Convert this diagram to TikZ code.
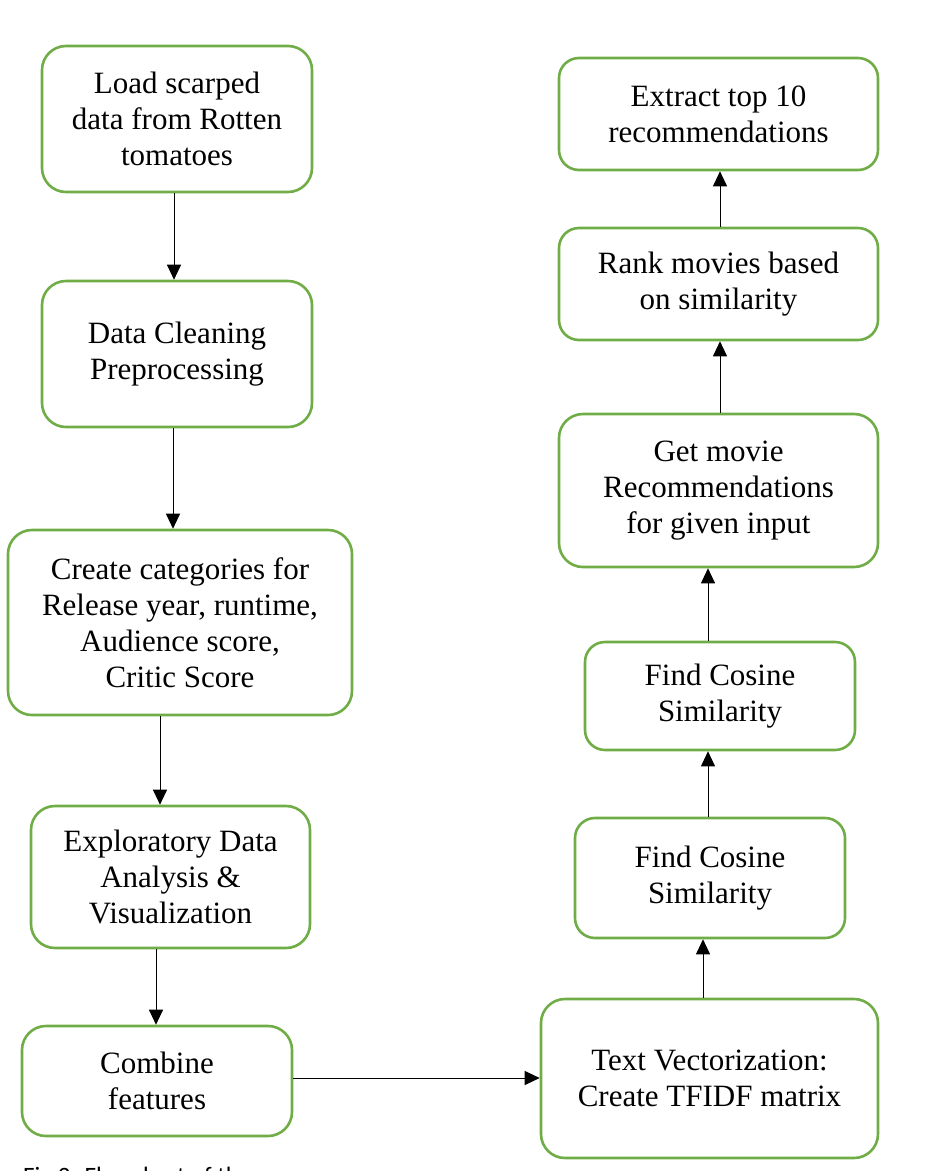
\documentclass[tikz,border=0pt]{standalone}
\usepackage{fontspec}
\setmainfont{Liberation Serif}
\newfontfamily\capfont{Carlito}
\usetikzlibrary{arrows.meta}
\definecolor{boxgreen}{HTML}{70AD47}
\tikzset{
  flowbox/.style={draw=boxgreen, line width=2.6pt, rounded corners=24pt, fill=white,
    align=center, inner sep=0pt, font=\fontsize{31}{36}\selectfont},
  arr/.style={draw=black, line width=1pt, -{Triangle[length=15pt,width=14pt]}}
}
\begin{document}
\begin{tikzpicture}[x=1pt,y=-1pt]
\useasboundingbox (0,0) rectangle (952,1171);
\begin{scope}
\clip (0,0) rectangle (952,1171);
% left column
\node[flowbox, minimum width=270pt, minimum height=146pt] (load) at (177,119) {Load scarped\\data from Rotten\\tomatoes};
\node[flowbox, minimum width=270pt, minimum height=146pt] (clean) at (177,354) {Data Cleaning\\Preprocessing};
\node[flowbox, minimum width=344pt, minimum height=185pt] (cat) at (180,622.5) {Create categories for\\Release year, runtime,\\Audience score,\\Critic Score};
\node[flowbox, minimum width=279pt, minimum height=142pt] (eda) at (170.5,877) {Exploratory Data\\Analysis \&\\Visualization};
\node[flowbox, minimum width=270pt, minimum height=110pt] (comb) at (157,1081) {Combine\\features};
% right column
\node[flowbox, minimum width=337pt, minimum height=159pt] (tfidf) at (709.5,1078.5) {Text Vectorization:\\Create TFIDF matrix};
\node[flowbox, minimum width=270pt, minimum height=120pt, rounded corners=20pt] (cos1) at (710,878) {Find Cosine\\Similarity};
\node[flowbox, minimum width=270pt, minimum height=108pt, rounded corners=20pt] (cos2) at (720,696) {Find Cosine\\Similarity};
\node[flowbox, minimum width=319pt, minimum height=153pt] (get) at (718.5,490.5) {Get movie\\Recommendations\\for given input};
\node[flowbox, minimum width=319pt, minimum height=112pt, rounded corners=20pt] (rank) at (718.5,284) {Rank movies based\\on similarity};
\node[flowbox, minimum width=319pt, minimum height=112pt, rounded corners=20pt] (top) at (718.5,114) {Extract top 10\\recommendations};
% connectors
\draw[arr] (load.south -| 174,0) -- (clean.north -| 174,0);
\draw[arr] (clean.south -| 173,0) -- (cat.north -| 173,0);
\draw[arr] (cat.south -| 160,0) -- (eda.north -| 160,0);
\draw[arr] (eda.south -| 156,0) -- (comb.north -| 156,0);
\draw[arr] (comb.east |- 0,1078) -- (tfidf.west |- 0,1078);
\draw[arr] (tfidf.north -| 703,0) -- (cos1.south -| 703,0);
\draw[arr] (cos1.north -| 708,0) -- (cos2.south -| 708,0);
\draw[arr] (cos2.north -| 708,0) -- (get.south -| 708,0);
\draw[arr] (get.north -| 720,0) -- (rank.south -| 720,0);
\draw[arr] (rank.north -| 720,0) -- (top.south -| 720,0);
% cut-off caption
\node[anchor=north west, inner sep=0pt, font=\capfont\fontsize{25}{28}\selectfont] (caption) at (23,1167) {Fig 2: Flowchart of the};
\end{scope}
\end{tikzpicture}
\end{document}
